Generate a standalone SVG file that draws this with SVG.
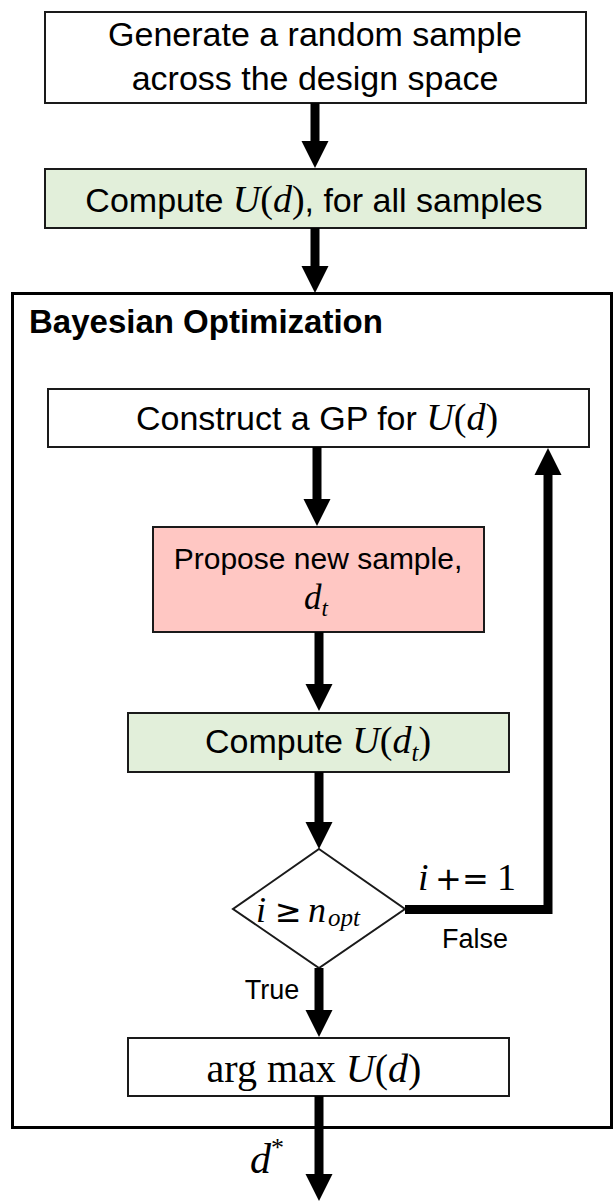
<svg xmlns="http://www.w3.org/2000/svg" width="613" height="1202" viewBox="0 0 613 1202">
<style>
.box{stroke:#1a1a1a;stroke-width:2}
.t{font-family:"Liberation Sans",Arial,sans-serif;font-size:34px;fill:#000}
.s{font-size:30px}
.lbl{font-family:"Liberation Sans",Arial,sans-serif;font-size:27px;fill:#000}
.m{font-family:"Liberation Serif","DejaVu Serif",serif;font-style:italic;font-size:38px}
.mu{font-family:"Liberation Serif","DejaVu Serif",serif;font-style:normal;font-size:38px}
.op{font-family:"DejaVu Sans",sans-serif;font-style:normal;font-size:32px}
.sub{font-size:25px}
.conn{stroke:#000;stroke-width:9;fill:none;marker-end:url(#ah)}
</style>
<defs>
<marker id="ah" markerUnits="userSpaceOnUse" markerWidth="28" markerHeight="28" viewBox="0 0 28 28" refX="2" refY="14" orient="auto">
<path d="M0,0.5 L27,14 L0,27.5 z" fill="#000"/>
</marker>
</defs>

<g id="generate">
<rect x="45" y="12" width="541" height="91" fill="#fff" class="box"/>
<text x="315" y="46" class="t" text-anchor="middle">Generate a random sample</text>
<text x="315" y="90" class="t" text-anchor="middle">across the design space</text>
</g>

<g id="compute-all">
<rect x="45" y="169" width="541" height="59" fill="#E2EFDA" class="box"/>
<text x="314" y="212" class="t" text-anchor="middle">Compute <tspan class="m">U</tspan><tspan class="mu">(</tspan><tspan class="m">d</tspan><tspan class="mu">)</tspan>, for all samples</text>
</g>

<g id="bayes-opt">
<rect x="12.5" y="293.5" width="599" height="834" fill="none" stroke="#000" stroke-width="3"/>
<text x="29" y="333" class="t" font-weight="bold" style="font-size:33px">Bayesian Optimization</text>
</g>

<g id="construct">
<rect x="48" y="389" width="541" height="58" fill="#fff" class="box"/>
<text x="317" y="430" class="t" text-anchor="middle">Construct a GP for <tspan class="m">U</tspan><tspan class="mu">(</tspan><tspan class="m">d</tspan><tspan class="mu">)</tspan></text>
</g>

<g id="propose">
<rect x="153" y="527" width="331" height="105" fill="#FFC7C3" class="box"/>
<text x="318" y="569" class="t s" text-anchor="middle">Propose new sample,</text>
<text x="316" y="609" class="m" style="font-size:35px" text-anchor="middle">d<tspan style="font-size:23px" dy="7">t</tspan></text>
</g>

<g id="compute-dt">
<rect x="128" y="713" width="381" height="59" fill="#E2EFDA" class="box"/>
<text x="318" y="753" class="t" text-anchor="middle">Compute <tspan class="m">U</tspan><tspan class="mu">(</tspan><tspan class="m">d</tspan><tspan class="m sub" dy="8">t</tspan><tspan class="mu" dy="-8">)</tspan></text>
</g>

<g id="decision">
<polygon points="319,849 405,909 319,968 233,909" fill="#fff" class="box"/>
<text y="922" class="m" style="font-size:36px"><tspan x="256">i</tspan><tspan x="275" class="op">≥</tspan><tspan x="308">n</tspan><tspan x="328" dy="4" style="font-size:25px">opt</tspan></text>
</g>

<g id="argmax">
<rect x="128" y="1038" width="381" height="58" fill="#fff" class="box"/>
<text x="314" y="1082" class="mu" style="font-size:40px" text-anchor="middle">arg max <tspan class="m" style="font-size:40px">U</tspan><tspan class="mu" style="font-size:40px">(</tspan><tspan class="m" style="font-size:40px">d</tspan><tspan class="mu" style="font-size:40px">)</tspan></text>
</g>

<g id="connectors">
<line class="conn" x1="315" y1="103" x2="315" y2="143"/>
<line class="conn" x1="315" y1="228" x2="315" y2="268"/>
<line class="conn" x1="317" y1="447" x2="317" y2="501"/>
<line class="conn" x1="319" y1="632" x2="319" y2="686"/>
<line class="conn" x1="319" y1="772" x2="319" y2="824"/>
<line class="conn" x1="319" y1="968" x2="319" y2="1012"/>
<line class="conn" x1="319" y1="1096" x2="319" y2="1176"/>
<path class="conn" d="M405,909.5 H548 V473"/>
</g>

<g id="labels">
<text y="890" class="m" style="font-size:38px"><tspan x="418">i</tspan><tspan x="435" class="op" style="font-size:32px">+</tspan><tspan x="462" class="op" style="font-size:32px">=</tspan><tspan x="497" class="mu" style="font-size:38px">1</tspan></text>
<text x="475" y="948" class="lbl" text-anchor="middle">False</text>
<text x="272" y="999" class="lbl" text-anchor="middle">True</text>
<text x="250" y="1173" class="m" style="font-size:42px">d<tspan class="mu" style="font-size:26px" dy="-17">*</tspan></text>
</g>
</svg>
